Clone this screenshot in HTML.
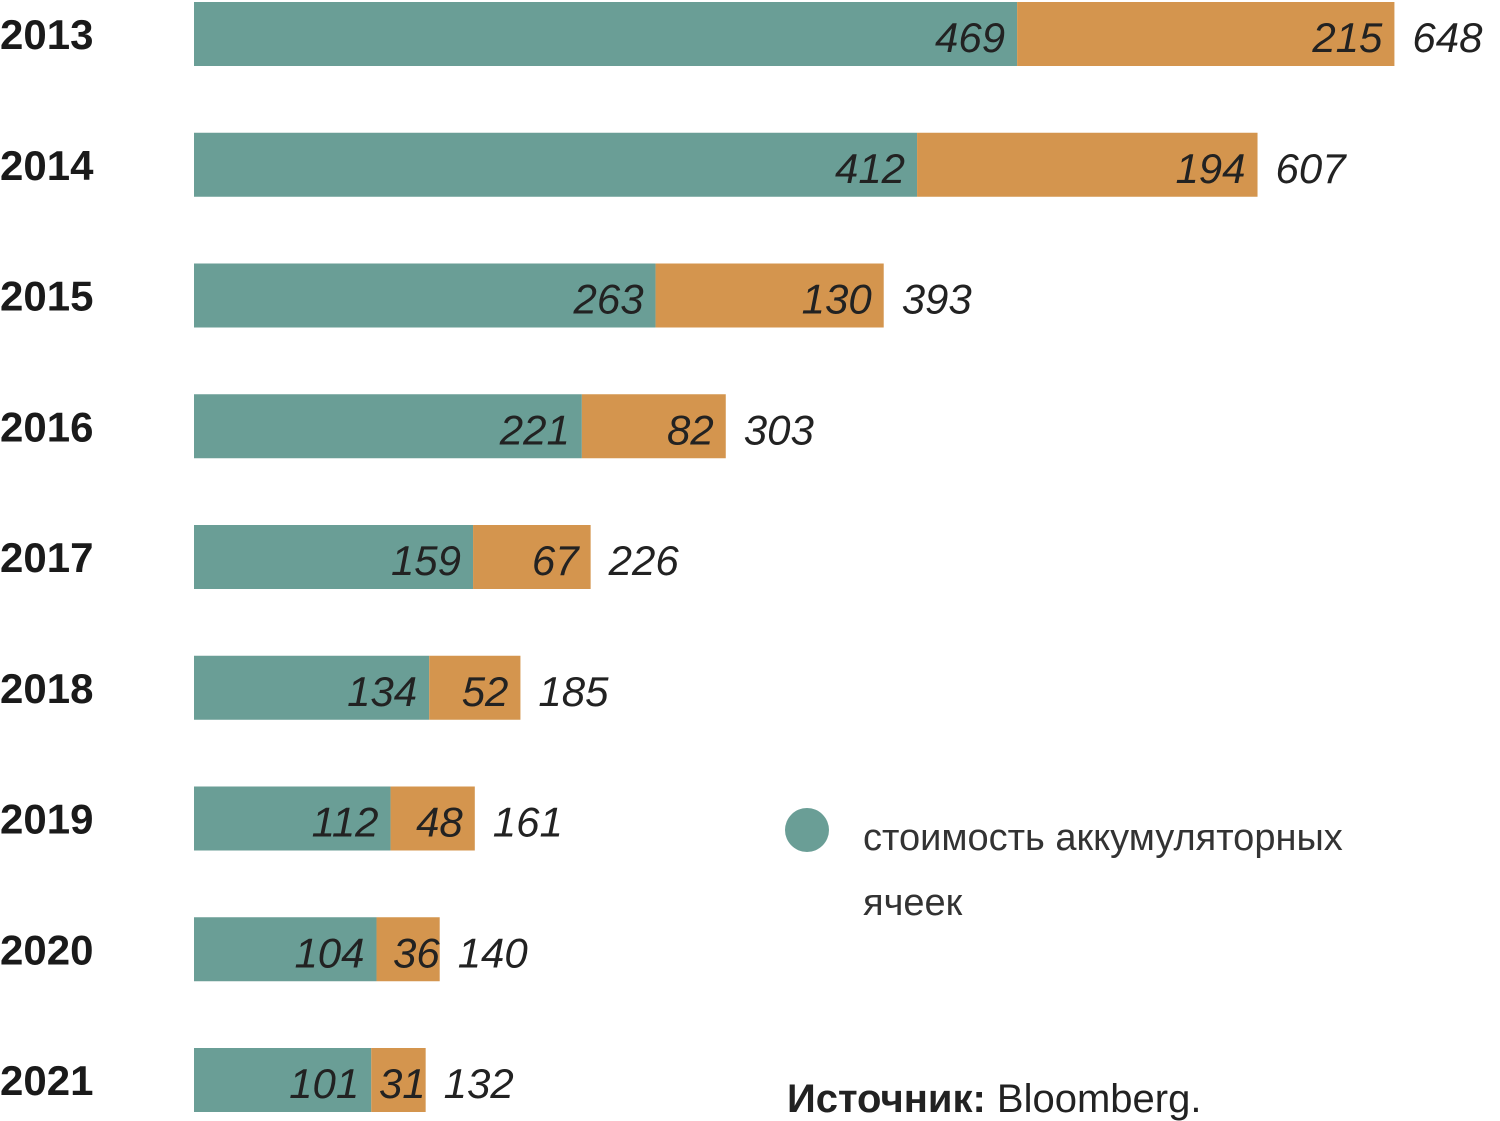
<!DOCTYPE html>
<html><head><meta charset="utf-8"><style>
html,body{margin:0;padding:0;background:#fff;width:1500px;height:1121px;overflow:hidden}
svg text{font-family:"Liberation Sans",sans-serif}
</style></head><body>
<svg id="chart" width="1500" height="1121" xmlns="http://www.w3.org/2000/svg">
<g id="bars"></g>
<g>
<circle cx="807" cy="830" r="22" fill="#6a9e96"/>
<text x="863" y="850" font-size="38" fill="#333">стоимость аккумуляторных</text>
<text x="863" y="915" font-size="38" fill="#333">ячеек</text>
</g>
<text x="787" y="1112" font-size="40" fill="#222"><tspan font-weight="bold">Источник:</tspan> Bloomberg.</text>
</svg>
<script>
const years=["2013","2014","2015","2016","2017","2018","2019","2020","2021"];
const cells=[469,412,263,221,159,134,112,104,101];
const rest=[215,194,130,82,67,52,48,36,31];
const totals=[648,607,393,303,226,185,161,140,132];
const x0=194,scale=1.755,rowTop=2,rowStep=130.75,barH=64;
const xPos=v=>x0+v*scale;
const yPos=i=>rowTop+i*rowStep;
const g=document.getElementById('bars');
const NS="http://www.w3.org/2000/svg";
function mk(tag,attrs,text){const e=document.createElementNS(NS,tag);for(const k in attrs)e.setAttribute(k,attrs[k]);if(text!==undefined)e.textContent=text;g.appendChild(e);return e;}
years.forEach((yr,i)=>{
  const y=yPos(i);
  const yl=mk('text',{x:0,y:y+47,'font-size':42,'font-weight':'bold',fill:'#1a1a1a'},yr);
  
  
  const b1=mk('rect',{x:x0,y:y,width:cells[i]*scale,height:barH,fill:'#6a9e96'});
  
  
  const b2=mk('rect',{x:xPos(cells[i]),y:y,width:rest[i]*scale,height:barH,fill:'#d4954e'});
  
  
  const t1=mk('text',{x:xPos(cells[i])-12,y:y+50,'font-size':42,'font-style':'italic','text-anchor':'end',fill:'#222'},cells[i]);
  
  
  const t2=mk('text',{x:xPos(cells[i]+rest[i])-(rest[i]<40?0:12),y:y+50,'font-size':42,'font-style':'italic','text-anchor':'end',fill:'#222'},rest[i]);
  
  
  const t3=mk('text',{x:xPos(cells[i]+rest[i])+18,y:y+50,'font-size':42,'font-style':'italic',fill:'#222'},totals[i]);
  
  
});
</script>
</body></html>
